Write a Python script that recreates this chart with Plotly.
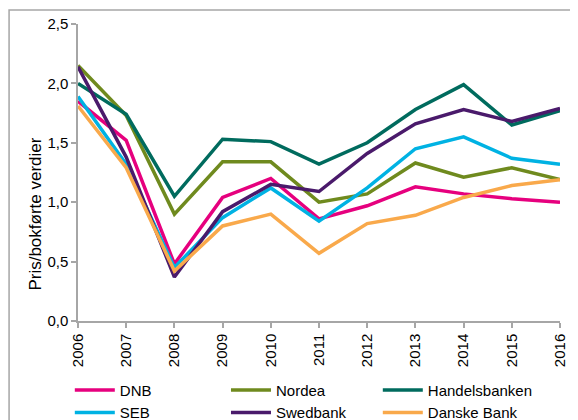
import plotly.graph_objects as go

years = [2006, 2007, 2008, 2009, 2010, 2011, 2012, 2013, 2014, 2015, 2016]

dnb = [1.85, 1.52, 0.48, 1.04, 1.20, 0.86, 0.97, 1.13, 1.07, 1.03, 1.00]
nordea = [2.15, 1.73, 0.90, 1.34, 1.34, 1.00, 1.07, 1.33, 1.21, 1.29, 1.19]
handelsbanken = [2.00, 1.74, 1.05, 1.53, 1.51, 1.32, 1.50, 1.78, 1.99, 1.65, 1.77]
seb = [1.89, 1.32, 0.45, 0.87, 1.12, 0.84, 1.12, 1.45, 1.55, 1.37, 1.32]
swedbank = [2.14, 1.38, 0.37, 0.92, 1.15, 1.09, 1.41, 1.66, 1.78, 1.68, 1.79]
danske = [1.81, 1.29, 0.42, 0.80, 0.90, 0.57, 0.82, 0.89, 1.04, 1.14, 1.19]

# name, values, colour, legend column
series = [
    ("DNB", dnb, "#E6007E", "legend"),
    ("Nordea", nordea, "#6F8A1E", "legend2"),
    ("Handelsbanken", handelsbanken, "#006B5E", "legend3"),
    ("SEB", seb, "#00B2E3", "legend"),
    ("Swedbank", swedbank, "#4A1A6B", "legend2"),
    ("Danske Bank", danske, "#F9A94B", "legend3"),
]

fig = go.Figure()
for name, vals, col, leg in series:
    fig.add_trace(go.Scatter(x=years, y=vals, name=name, mode="lines", legend=leg,
                             line=dict(color=col, width=3.5)))

FONT = "Liberation Sans"
axis_col = "#A6A6A6"
leg_style = dict(orientation="v", y=-0.178, xanchor="left", yanchor="top",
                 font=dict(size=15, family=FONT), itemwidth=40, tracegroupgap=0,
                 bgcolor="rgba(0,0,0,0)")

# page body has an 8px margin, so the figure is a bit smaller than the window
fig.update_layout(
    width=570, height=412,
    margin=dict(l=70, r=18, t=16, b=99, autoexpand=False),
    paper_bgcolor="white", plot_bgcolor="white",
    font=dict(family=FONT, size=15, color="black"),
    separators=", ",
    showlegend=True,
    legend=dict(x=-0.017, **leg_style),
    legend2=dict(x=0.307, **leg_style),
    legend3=dict(x=0.622, **leg_style),
    shapes=[dict(type="rect", xref="paper", yref="paper",
                 x0=-0.143, x1=1.2, y0=-0.6, y1=1.047,
                 line=dict(color="#A6A6A6", width=1.5))],
    annotations=[dict(text="Pris/bokførte verdier", xref="paper", yref="paper",
                      x=-0.112, y=0.36, textangle=-90, showarrow=False,
                      font=dict(size=17))],
)
fig.update_xaxes(range=[2006, 2016], tickvals=years, tickangle=-90,
                 showline=True, linecolor=axis_col, linewidth=1.5,
                 ticks="outside", tickcolor=axis_col, ticklen=5, tickwidth=1.5,
                 showgrid=False, zeroline=False)
fig.update_yaxes(range=[0, 2.5], tickvals=[0, 0.5, 1.0, 1.5, 2.0, 2.5], tickformat=".1f",
                 showline=True, linecolor=axis_col, linewidth=1.5,
                 ticks="outside", tickcolor=axis_col, ticklen=5, tickwidth=1.5,
                 showgrid=False, zeroline=False)

fig.write_html("out.html")
